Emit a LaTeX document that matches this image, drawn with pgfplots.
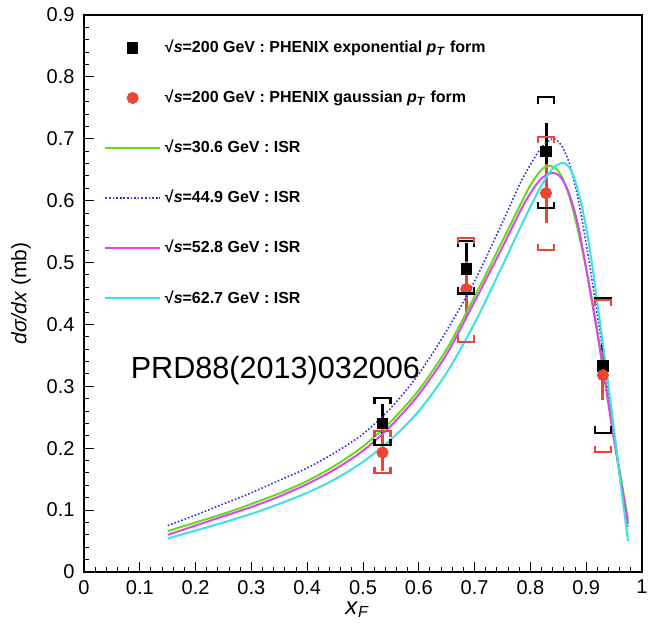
\documentclass[border=0pt]{standalone}
\usepackage{pgfplots}
\pgfplotsset{compat=1.18}
\usepackage{fontspec}
\setmainfont{Liberation Sans}
\definecolor{cgreen}{RGB}{100,220,30}
\definecolor{cblue}{RGB}{50,50,230}
\definecolor{cmag}{RGB}{220,70,235}
\definecolor{ccyan}{RGB}{60,225,225}
\definecolor{cred}{RGB}{235,70,50}
\pgfdeclareplotmark{capTop}{%
  \pgfpathmoveto{\pgfqpoint{-\pgfplotmarksize}{-0.8\pgfplotmarksize}}%
  \pgfpathlineto{\pgfqpoint{-\pgfplotmarksize}{0pt}}%
  \pgfpathlineto{\pgfqpoint{\pgfplotmarksize}{0pt}}%
  \pgfpathlineto{\pgfqpoint{\pgfplotmarksize}{-0.8\pgfplotmarksize}}%
  \pgfusepathqstroke}
\pgfdeclareplotmark{capBot}{%
  \pgfpathmoveto{\pgfqpoint{-\pgfplotmarksize}{0.8\pgfplotmarksize}}%
  \pgfpathlineto{\pgfqpoint{-\pgfplotmarksize}{0pt}}%
  \pgfpathlineto{\pgfqpoint{\pgfplotmarksize}{0pt}}%
  \pgfpathlineto{\pgfqpoint{\pgfplotmarksize}{0.8\pgfplotmarksize}}%
  \pgfusepathqstroke}
\begin{document}
\begin{tikzpicture}
\begin{axis}[
  scale only axis,
  width=279pt, height=278.5pt,
  xmin=0, xmax=1, ymin=0, ymax=0.9,
  xtick={0,0.1,...,1.0}, ytick={0,0.1,...,0.9},
  xticklabels={0,0.1,0.2,0.3,0.4,0.5,0.6,0.7,0.8,0.9,1},
  yticklabels={0,0.1,0.2,0.3,0.4,0.5,0.6,0.7,0.8,0.9},
  minor tick num=4,
  tick align=inside,
  xtick pos=bottom, ytick pos=left,
  major tick length=5pt, minor tick length=2.5pt,
  tick style={black, line width=0.5pt},
  /pgf/number format/assume math mode=true,
  ticklabel style={font=\fontsize{10}{12}\selectfont},
  yticklabel style={xshift=-1.2pt},
  xticklabel style={yshift=-0.5pt},
  xlabel={\textit{x}\textsubscript{\textit{F}}},
  ylabel={\textit{dσ/dx} (mb)},
  xlabel style={font=\fontsize{12}{14}\selectfont, at={(axis description cs:0.49,-0.068)}, anchor=center},
  ylabel style={font=\fontsize{10.5}{12}\selectfont, at={(axis description cs:-0.113,0.5)}, anchor=center, rotate=0},
  axis line style={line width=0.6pt},
  legend style={at={(0.025,0.97)}, anchor=north west, draw=none, fill=none,
    font=\bfseries\fontsize{8}{10}\selectfont, row sep=13.2pt,
    /tikz/every even column/.append style={column sep=4pt}},
  legend cell align=left,
  legend image code/.code={\draw[mark repeat=2,mark phase=2,#1] plot coordinates {(0cm,0cm) (0.48cm,0cm) (0.96cm,0cm)};},
]
% PHENIX exponential
\addplot[only marks, mark=square*, mark size=2.6pt, black,
  error bars/.cd, y dir=both, y explicit, error bar style={line width=1.5pt, black}, error mark=none]
  coordinates {
  (0.535,0.240) +- (0,0.032)
  (0.685,0.490) +- (0,0.042)
  (0.828,0.680) +- (0,0.045)
  (0.930,0.333) +- (0,0.035)
  };
\addlegendentry{√\textit{s}=200 GeV : PHENIX exponential \textit{p}\textsubscript{\textit{T}} form}
% PHENIX gaussian
\addplot[only marks, mark=*, mark size=2.8pt, cred,
  error bars/.cd, y dir=both, y explicit, error bar style={line width=1.5pt, cred}, error mark=none]
  coordinates {
  (0.535,0.193) +- (0,0.030)
  (0.685,0.457) +- (0,0.045)
  (0.828,0.612) +- (0,0.048)
  (0.930,0.318) +- (0,0.040)
  };
\addlegendentry{√\textit{s}=200 GeV : PHENIX gaussian \textit{p}\textsubscript{\textit{T}} form}
% ISR curves
\addplot[cgreen, line width=1pt, smooth] coordinates {
  (0.15,0.066) (0.2,0.080) (0.25,0.094) (0.3,0.110) (0.35,0.127) (0.4,0.147)
  (0.45,0.172) (0.5,0.203) (0.55,0.243) (0.6,0.294) (0.65,0.360) (0.7,0.445)
  (0.75,0.535) (0.78,0.590) (0.80,0.625) (0.82,0.650) (0.835,0.656) (0.85,0.648)
  (0.865,0.620) (0.88,0.572) (0.90,0.490) (0.92,0.390) (0.94,0.275) (0.955,0.190) (0.975,0.085)};
\addlegendentry{√\textit{s}=30.6 GeV : ISR}
\addplot[cblue, line width=0.8pt, densely dotted, smooth] coordinates {
  (0.15,0.075) (0.2,0.092) (0.25,0.110) (0.3,0.128) (0.35,0.148) (0.4,0.168)
  (0.45,0.193) (0.5,0.223) (0.55,0.265) (0.6,0.320) (0.65,0.390) (0.7,0.470)
  (0.75,0.565) (0.78,0.625) (0.80,0.658) (0.82,0.686) (0.84,0.700) (0.855,0.690)
  (0.87,0.660) (0.885,0.605) (0.90,0.530) (0.915,0.445) (0.93,0.355) (0.95,0.225) (0.965,0.130) (0.975,0.070)};
\addlegendentry{√\textit{s}=44.9 GeV : ISR}
\addplot[cmag, line width=1pt, smooth] coordinates {
  (0.15,0.060) (0.2,0.075) (0.25,0.090) (0.3,0.105) (0.35,0.122) (0.4,0.142)
  (0.45,0.166) (0.5,0.196) (0.55,0.236) (0.6,0.287) (0.65,0.352) (0.7,0.437)
  (0.75,0.525) (0.78,0.580) (0.80,0.612) (0.82,0.636) (0.84,0.645) (0.855,0.637)
  (0.87,0.610) (0.885,0.562) (0.90,0.490) (0.92,0.385) (0.94,0.270) (0.955,0.185) (0.975,0.078)};
\addlegendentry{√\textit{s}=52.8 GeV : ISR}
\addplot[ccyan, line width=1pt, smooth] coordinates {
  (0.15,0.054) (0.2,0.067) (0.25,0.080) (0.3,0.094) (0.35,0.110) (0.4,0.128)
  (0.45,0.150) (0.5,0.178) (0.55,0.214) (0.6,0.260) (0.65,0.322) (0.7,0.402)
  (0.75,0.495) (0.78,0.553) (0.80,0.590) (0.82,0.625) (0.84,0.652) (0.86,0.661)
  (0.875,0.645) (0.89,0.600) (0.905,0.530) (0.92,0.435) (0.94,0.300) (0.96,0.155) (0.975,0.050)};
\addlegendentry{√\textit{s}=62.7 GeV : ISR}
% systematic brackets
\addplot[forget plot, only marks, mark=capTop, mark size=4pt, black, line width=1.1pt]
  coordinates {(0.535,0.281) (0.685,0.535) (0.828,0.767) (0.930,0.443)};
\addplot[forget plot, only marks, mark=capBot, mark size=4pt, black, line width=1.1pt]
  coordinates {(0.535,0.205) (0.685,0.450) (0.828,0.588) (0.930,0.225)};
\addplot[forget plot, only marks, mark=capTop, mark size=4pt, cred, line width=1.1pt]
  coordinates {(0.535,0.228) (0.685,0.540) (0.828,0.703) (0.930,0.440)};
\addplot[forget plot, only marks, mark=capBot, mark size=4pt, cred, line width=1.1pt]
  coordinates {(0.535,0.160) (0.685,0.372) (0.828,0.520) (0.930,0.194)};
\node at (axis cs:0.343,0.326) {\fontsize{15.3}{18}\selectfont PRD88(2013)032006};
\end{axis}
\pgfresetboundingbox
\path[use as bounding box] ([shift={(-42pt,-26.5pt)}]current axis.south west) rectangle ([shift={(3pt,7.5pt)}]current axis.north east);
\end{tikzpicture}
\end{document}
